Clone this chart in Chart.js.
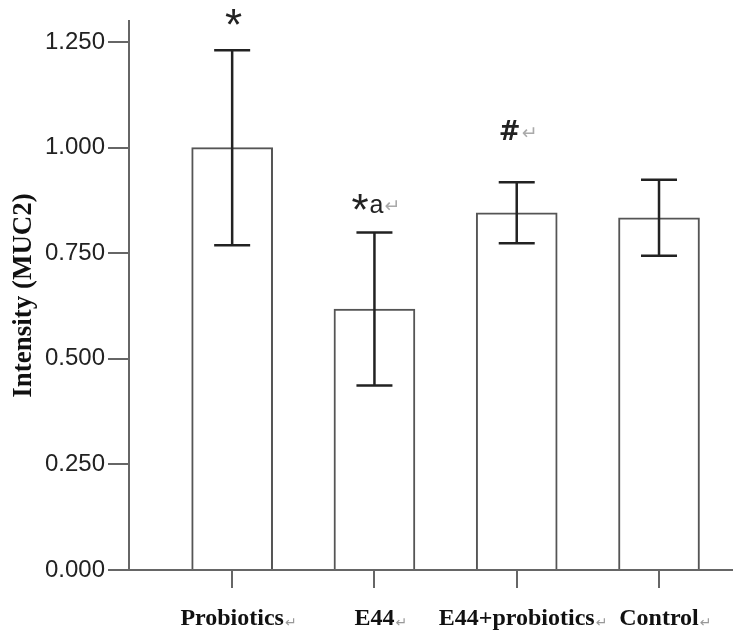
<!DOCTYPE html>
<html>
<head>
<meta charset="utf-8">
<script src="https://cdn.jsdelivr.net/npm/chart.js@4/dist/chart.umd.min.js"></script>
<style>
  html, body { margin: 0; padding: 0; background: #fff; }
  #wrap { width: 733px; height: 636px; }
</style>
</head>
<body>
<div id="wrap"><canvas id="chart1"></canvas></div>
<script>
var categories = ["Probiotics↵", "E44↵", "E44+probiotics↵", "Control↵"];
var means = [1.000, 0.618, 0.846, 0.834];
var errors = [0.231, 0.181, 0.072, 0.090];
var marks = ["*", "*a↵", "#↵", ""];
var yTicks = [0, 0.25, 0.5, 0.75, 1.0, 1.25];

var axisColor = "#666";
var inkColor = "#222";
var labelFont = "bold 24px 'Liberation Serif'";

// strip the word paragraph mark, it is drawn later in grey
function plain(s) { return s.replace("↵", ""); }

// error bars + the * / # marks over the bars
var errorBars = {
  id: "errorBars",
  afterDatasetsDraw: function (chart) {
    var ctx = chart.ctx;
    var xs = chart.scales.x, ys = chart.scales.y;
    var gap = [22, 20, 42, 0];
    ctx.save();
    for (let i = 0; i < means.length; i++) {
      let x = xs.getPixelForValue(i);
      let top = ys.getPixelForValue(means[i] + errors[i]);
      let bot = ys.getPixelForValue(means[i] - errors[i]);
      ctx.strokeStyle = inkColor;
      ctx.lineWidth = 2.5;
      ctx.beginPath();
      ctx.moveTo(x, top); ctx.lineTo(x, bot);
      ctx.moveTo(x - 18, top); ctx.lineTo(x + 18, top);
      ctx.moveTo(x - 18, bot); ctx.lineTo(x + 18, bot);
      ctx.stroke();

      // mark text, char by char on one baseline
      let txt = marks[i];
      if (!txt) continue;
      let parts = txt.split("").map(function (c) {
        if (c == "*") return { c: c, f: "44px 'Liberation Sans'", col: inkColor, dy: 12 };
        if (c == "↵") return { c: c, f: "19px 'DejaVu Sans'", col: "#aaa", dy: -1 };
        if (c == "#") return { c: c, f: "bold 26px 'DejaVu Sans'", col: inkColor, dy: 0 };
        return { c: c, f: "25px 'Liberation Sans'", col: inkColor, dy: 0 };
      });
      let total = 0;
      parts.forEach(function (p) { ctx.font = p.f; p.w = ctx.measureText(p.c).width + 1; total += p.w; });
      let cx = x - total / 2 + 2;
      let base = top - gap[i];
      ctx.textBaseline = "alphabetic";
      ctx.textAlign = "left";
      parts.forEach(function (p) {
        ctx.font = p.f;
        ctx.fillStyle = p.col;
        ctx.fillText(p.c, cx, base + p.dy);
        cx += p.w;
      });
    }
    ctx.restore();
  },
  afterDraw: function (chart) {
    // small grey return marks after the category labels
    var ctx = chart.ctx;
    var xs = chart.scales.x;
    ctx.save();
    for (let i = 0; i < categories.length; i++) {
      if (categories[i].indexOf("↵") < 0) continue;
      let x = xs.getPixelForValue(i);
      ctx.font = labelFont;
      let w = ctx.measureText(plain(categories[i])).width;
      ctx.font = "14px 'DejaVu Sans'";
      ctx.fillStyle = "#999";
      ctx.textBaseline = "alphabetic";
      ctx.fillText("↵", x + w / 2 + 1, 627);
    }
    ctx.restore();
  }
};

var ctx = document.getElementById("chart1");
var myChart = new Chart(ctx, {
  type: "bar",
  data: {
    datasets: [{
      data: means.map(function (v, i) { return { x: i, y: v }; }),
      backgroundColor: "#fff",
      borderColor: "#555",
      borderWidth: 2,
      barThickness: 81
    }]
  },
  options: {
    responsive: true,
    maintainAspectRatio: false,
    animation: false,
    layout: { padding: { top: 21, right: 0, left: 0, bottom: 0 } },
    plugins: { legend: { display: false }, tooltip: { enabled: false } },
    scales: {
      x: {
        type: "linear",
        offset: false,
        min: -0.725,
        max: 3.52,
        afterBuildTicks: function (s) { s.ticks = categories.map(function (c, i) { return { value: i }; }); },
        afterFit: function (s) { s.height = 66; },
        ticks: {
          autoSkip: false,
          maxRotation: 0,
          padding: 16,
          color: "#111",
          font: { family: "'Liberation Serif'", size: 24, weight: "bold" },
          callback: function (v) { return plain(categories[v]); }
        },
        grid: { offset: false, drawOnChartArea: false, tickLength: 18, color: axisColor, lineWidth: 2 },
        border: { color: axisColor, width: 2 }
      },
      y: {
        min: 0,
        max: 1.3,
        afterBuildTicks: function (s) { s.ticks = yTicks.map(function (v) { return { value: v }; }); },
        afterFit: function (s) { s.width = 129; },
        ticks: {
          padding: 3,
          color: inkColor,
          font: { family: "'Liberation Sans'", size: 24 },
          callback: function (v) { return v.toFixed(3); }
        },
        grid: { drawOnChartArea: false, tickLength: 21, color: axisColor, lineWidth: 2 },
        border: { color: axisColor, width: 2 },
        title: {
          display: true,
          text: "Intensity (MUC2)",
          color: "#111",
          padding: { top: 8, bottom: 0 },
          font: { family: "'Liberation Serif'", size: 27, weight: "bold" }
        }
      }
    }
  },
  plugins: [errorBars]
});
</script>
</body>
</html>
